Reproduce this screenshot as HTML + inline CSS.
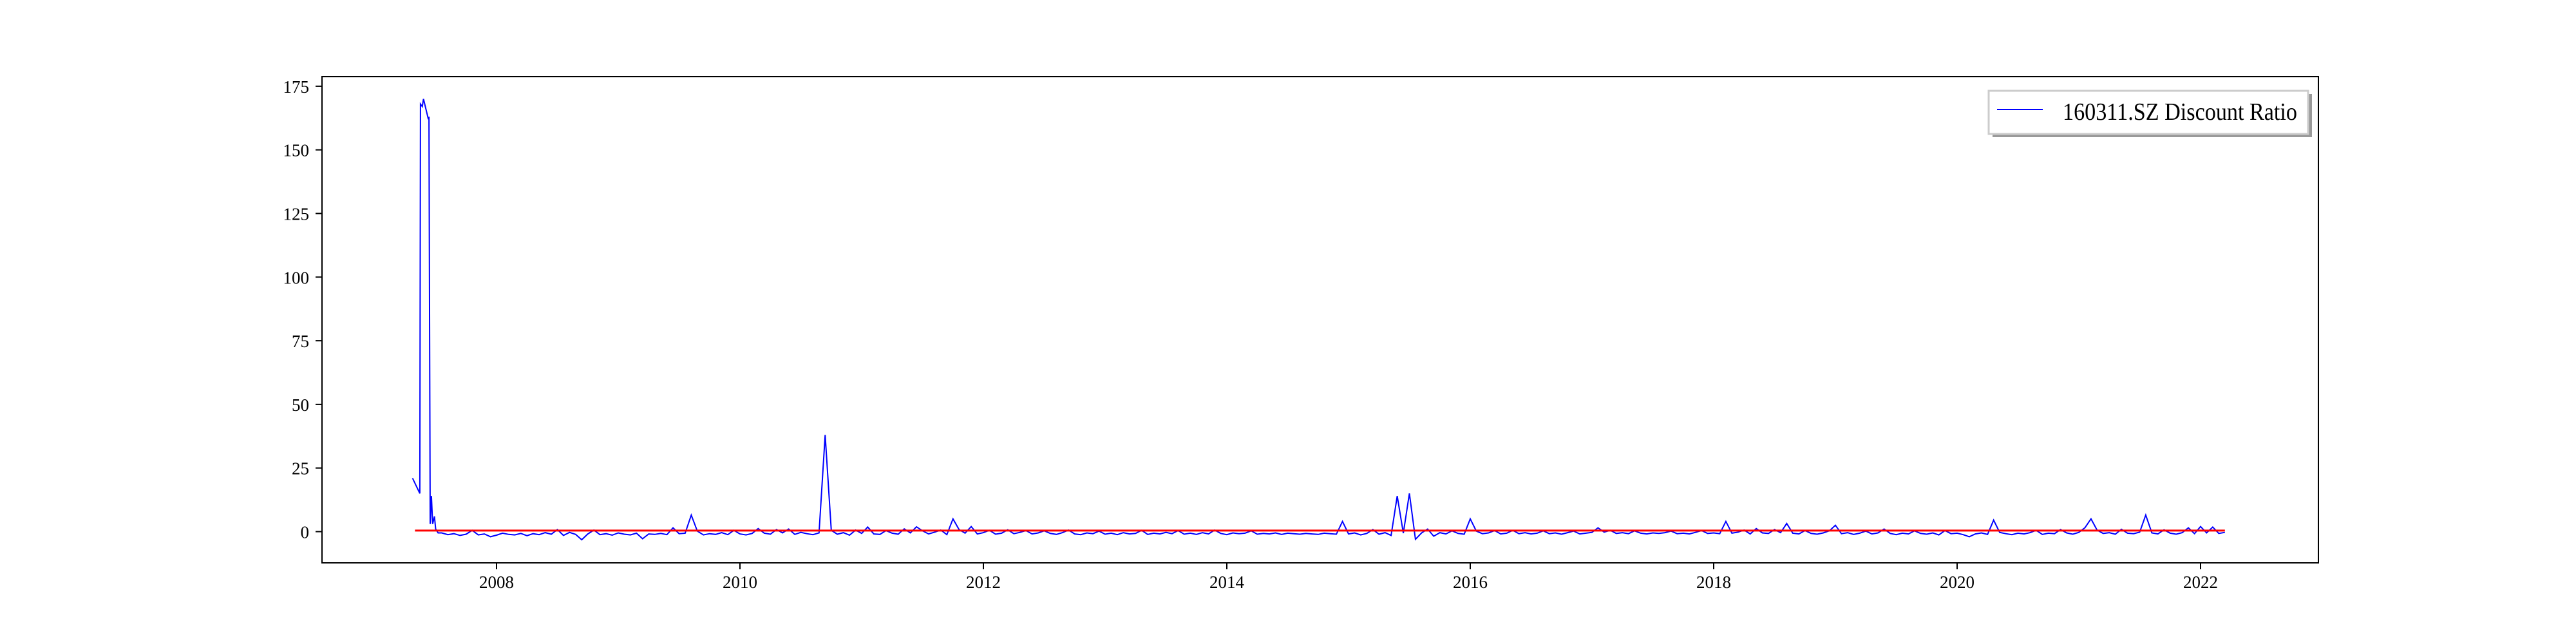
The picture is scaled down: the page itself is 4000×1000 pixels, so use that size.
<!DOCTYPE html>
<html>
<head>
<meta charset="utf-8">
<style>
html,body{margin:0;padding:0;background:#fff;}
svg{display:block;font-family:"Liberation Serif","DejaVu Serif",serif;}
</style>
</head>
<body>
<svg id="chart" width="4000" height="1000" viewBox="0 0 4000 1000">
  <rect x="0" y="0" width="4000" height="1000" fill="#fff"/>
  <g id="plot"></g>
  <g id="axes"></g>
  <g id="legend">
    <rect x="3094" y="146" width="496" height="67" fill="#999"/>
    <rect x="3088" y="141" width="496" height="67" fill="#fff" stroke="#ccc" stroke-width="3"/>
    <line x1="3101" y1="170" x2="3172" y2="170" stroke="#0000ff" stroke-width="2"/>
    <text x="3203" y="186" font-size="38" textLength="364" lengthAdjust="spacingAndGlyphs" fill="#000">160311.SZ Discount Ratio</text>
  </g>
</svg>
<script>
const earlyDates = [2007.31,2007.37,2007.375,2007.39,2007.40,2007.42,2007.44,2007.445,2007.455,2007.465,2007.475,2007.49,2007.50,2007.52];
const earlyValues = [21,15,168,167,170,166,162,163,3,14,3,6,1,-0.5];
const startYear = 2007.55;
const stepYear = 0.05;
const values = [
-0.5,-1.2,-0.8,-1.5,-1.0,0.5,-1.3,-0.9,-2.0,-1.4,-0.6,-1.1,-1.3,-0.7,-1.6,-0.8,-1.2,-0.4,-1.0,0.8,
-1.5,-0.3,-1.1,-3.2,-0.9,0.6,-1.2,-0.8,-1.4,-0.5,-1.0,-1.3,-0.6,-2.8,-0.9,-1.1,-0.7,-1.2,1.5,-0.8,
-0.6,6.5,0.2,-1.3,-0.8,-1.1,-0.4,-1.2,0.5,-0.9,-1.3,-0.7,1.2,-0.6,-1.0,0.8,-0.5,1.0,-1.1,-0.3,
-0.8,-1.2,-0.5,38,0.5,-1.0,-0.4,-1.4,0.6,-0.7,1.8,-0.9,-1.1,0.4,-0.6,-1.0,1.1,-0.5,1.9,0.3,
-0.9,-0.2,0.6,-1.2,5.0,0.8,-0.6,2.0,-0.9,-0.4,0.5,-1.0,-0.6,0.7,-0.8,-0.3,0.4,-0.9,-0.5,0.3,
-0.7,-1.1,-0.4,0.6,-0.9,-1.2,-0.5,-0.8,0.2,-1.0,-0.6,-1.2,-0.4,-0.9,-0.7,0.5,-1.1,-0.6,-0.9,-0.3,
-0.8,0.4,-1.0,-0.6,-1.1,-0.4,-0.9,0.6,-0.7,-1.2,-0.5,-0.8,-0.6,0.3,-1.0,-0.7,-0.9,-0.5,-1.1,-0.6,
-0.8,-1.0,-0.7,-0.9,-1.1,-0.6,-0.8,-1.0,4.0,-0.9,-0.5,-1.3,-0.7,0.8,-1.0,-0.4,-1.5,14.0,-0.6,15.0,
-3.0,-0.5,1.0,-1.8,-0.4,-0.9,0.3,-0.7,-1.0,5.0,0.2,-0.8,-0.5,0.4,-0.9,-0.6,0.5,-0.8,-0.4,-0.9,
-0.6,0.3,-0.8,-0.5,-1.0,-0.4,0.2,-0.9,-0.6,-0.3,1.5,-0.2,0.5,-0.7,-0.4,-0.8,0.3,-0.6,-0.9,-0.5,
-0.7,-0.4,0.2,-0.8,-0.6,-0.9,-0.3,0.4,-0.7,-0.5,-0.8,4.0,-0.6,-0.2,0.6,-0.9,1.2,-0.5,-0.7,0.8,
-0.4,3.2,-0.6,-0.9,0.4,-0.7,-1.0,-0.5,0.3,2.5,-0.8,-0.4,-1.1,-0.6,0.2,-0.9,-0.5,1.0,-0.7,-1.2,
-0.6,-0.9,0.3,-0.7,-1.0,-0.5,-1.3,0.4,-0.8,-0.6,-1.2,-2.0,-0.9,-0.5,-1.1,4.5,-0.3,-0.8,-1.2,-0.6,
-0.9,-0.4,0.5,-1.1,-0.6,-0.8,0.8,-0.5,-1.0,-0.3,1.5,5.0,0.6,-0.7,-0.4,-1.0,0.9,-0.6,-0.8,-0.2,
6.5,-0.5,-0.9,0.7,-0.6,-1.0,-0.4,1.5,-0.8,2.0,-0.5,1.8,-0.7,-0.3
];
const redLevel = 0.4;
const redStart = 2007.33;
const redEnd = 2022.2;
const yTicks = [0,25,50,75,100,125,150,175];
const xTicks = [2008,2010,2012,2014,2016,2018,2020,2022];

const NS = "http://www.w3.org/2000/svg";
const L = 500, R = 3600, T = 119, B = 874;
function xs(yr){ return 771 + (yr - 2008) * 189; }
function ys(v){ return 825.5 - v * 3.952; }

const plot = document.getElementById('plot');
const axes = document.getElementById('axes');

let pts = [];
for (let i = 0; i < earlyDates.length; i++) pts.push(xs(earlyDates[i]).toFixed(1) + ',' + ys(earlyValues[i]).toFixed(1));
for (let i = 0; i < values.length; i++) pts.push(xs(startYear + i * stepYear).toFixed(1) + ',' + ys(values[i]).toFixed(1));
const line = document.createElementNS(NS, 'polyline');
line.setAttribute('points', pts.join(' '));
line.setAttribute('fill', 'none');
line.setAttribute('stroke', '#0000ff');
line.setAttribute('stroke-width', '2');


plot.appendChild(line);

const red = document.createElementNS(NS, 'line');
red.setAttribute('x1', xs(redStart)); red.setAttribute('x2', xs(redEnd));
red.setAttribute('y1', ys(redLevel)); red.setAttribute('y2', ys(redLevel));
red.setAttribute('stroke', '#ff0000');
red.setAttribute('stroke-width', '3');


plot.appendChild(red);

const frame = document.createElementNS(NS, 'rect');
frame.setAttribute('x', L); frame.setAttribute('y', T);
frame.setAttribute('width', R - L); frame.setAttribute('height', B - T);
frame.setAttribute('fill', 'none'); frame.setAttribute('stroke', '#000'); frame.setAttribute('stroke-width', '2');


axes.appendChild(frame);

yTicks.forEach(v => {
  const y = ys(v);
  const t = document.createElementNS(NS, 'line');
  t.setAttribute('x1', L - 10); t.setAttribute('x2', L); t.setAttribute('y1', y); t.setAttribute('y2', y);
  t.setAttribute('stroke', '#000'); t.setAttribute('stroke-width', '2');
  
  
  axes.appendChild(t);
  const lb = document.createElementNS(NS, 'text');
  lb.setAttribute('x', L - 20); lb.setAttribute('y', y + 10);
  lb.setAttribute('text-anchor', 'end'); lb.setAttribute('font-size', '27');
  lb.textContent = v;
  
  
  axes.appendChild(lb);
});
xTicks.forEach(v => {
  const x = xs(v);
  const t = document.createElementNS(NS, 'line');
  t.setAttribute('x1', x); t.setAttribute('x2', x); t.setAttribute('y1', B); t.setAttribute('y2', B + 10);
  t.setAttribute('stroke', '#000'); t.setAttribute('stroke-width', '2');
  
  
  axes.appendChild(t);
  const lb = document.createElementNS(NS, 'text');
  lb.setAttribute('x', x); lb.setAttribute('y', B + 39);
  lb.setAttribute('text-anchor', 'middle'); lb.setAttribute('font-size', '27');
  lb.textContent = v;
  
  
  axes.appendChild(lb);
});
</script>
</body>
</html>
